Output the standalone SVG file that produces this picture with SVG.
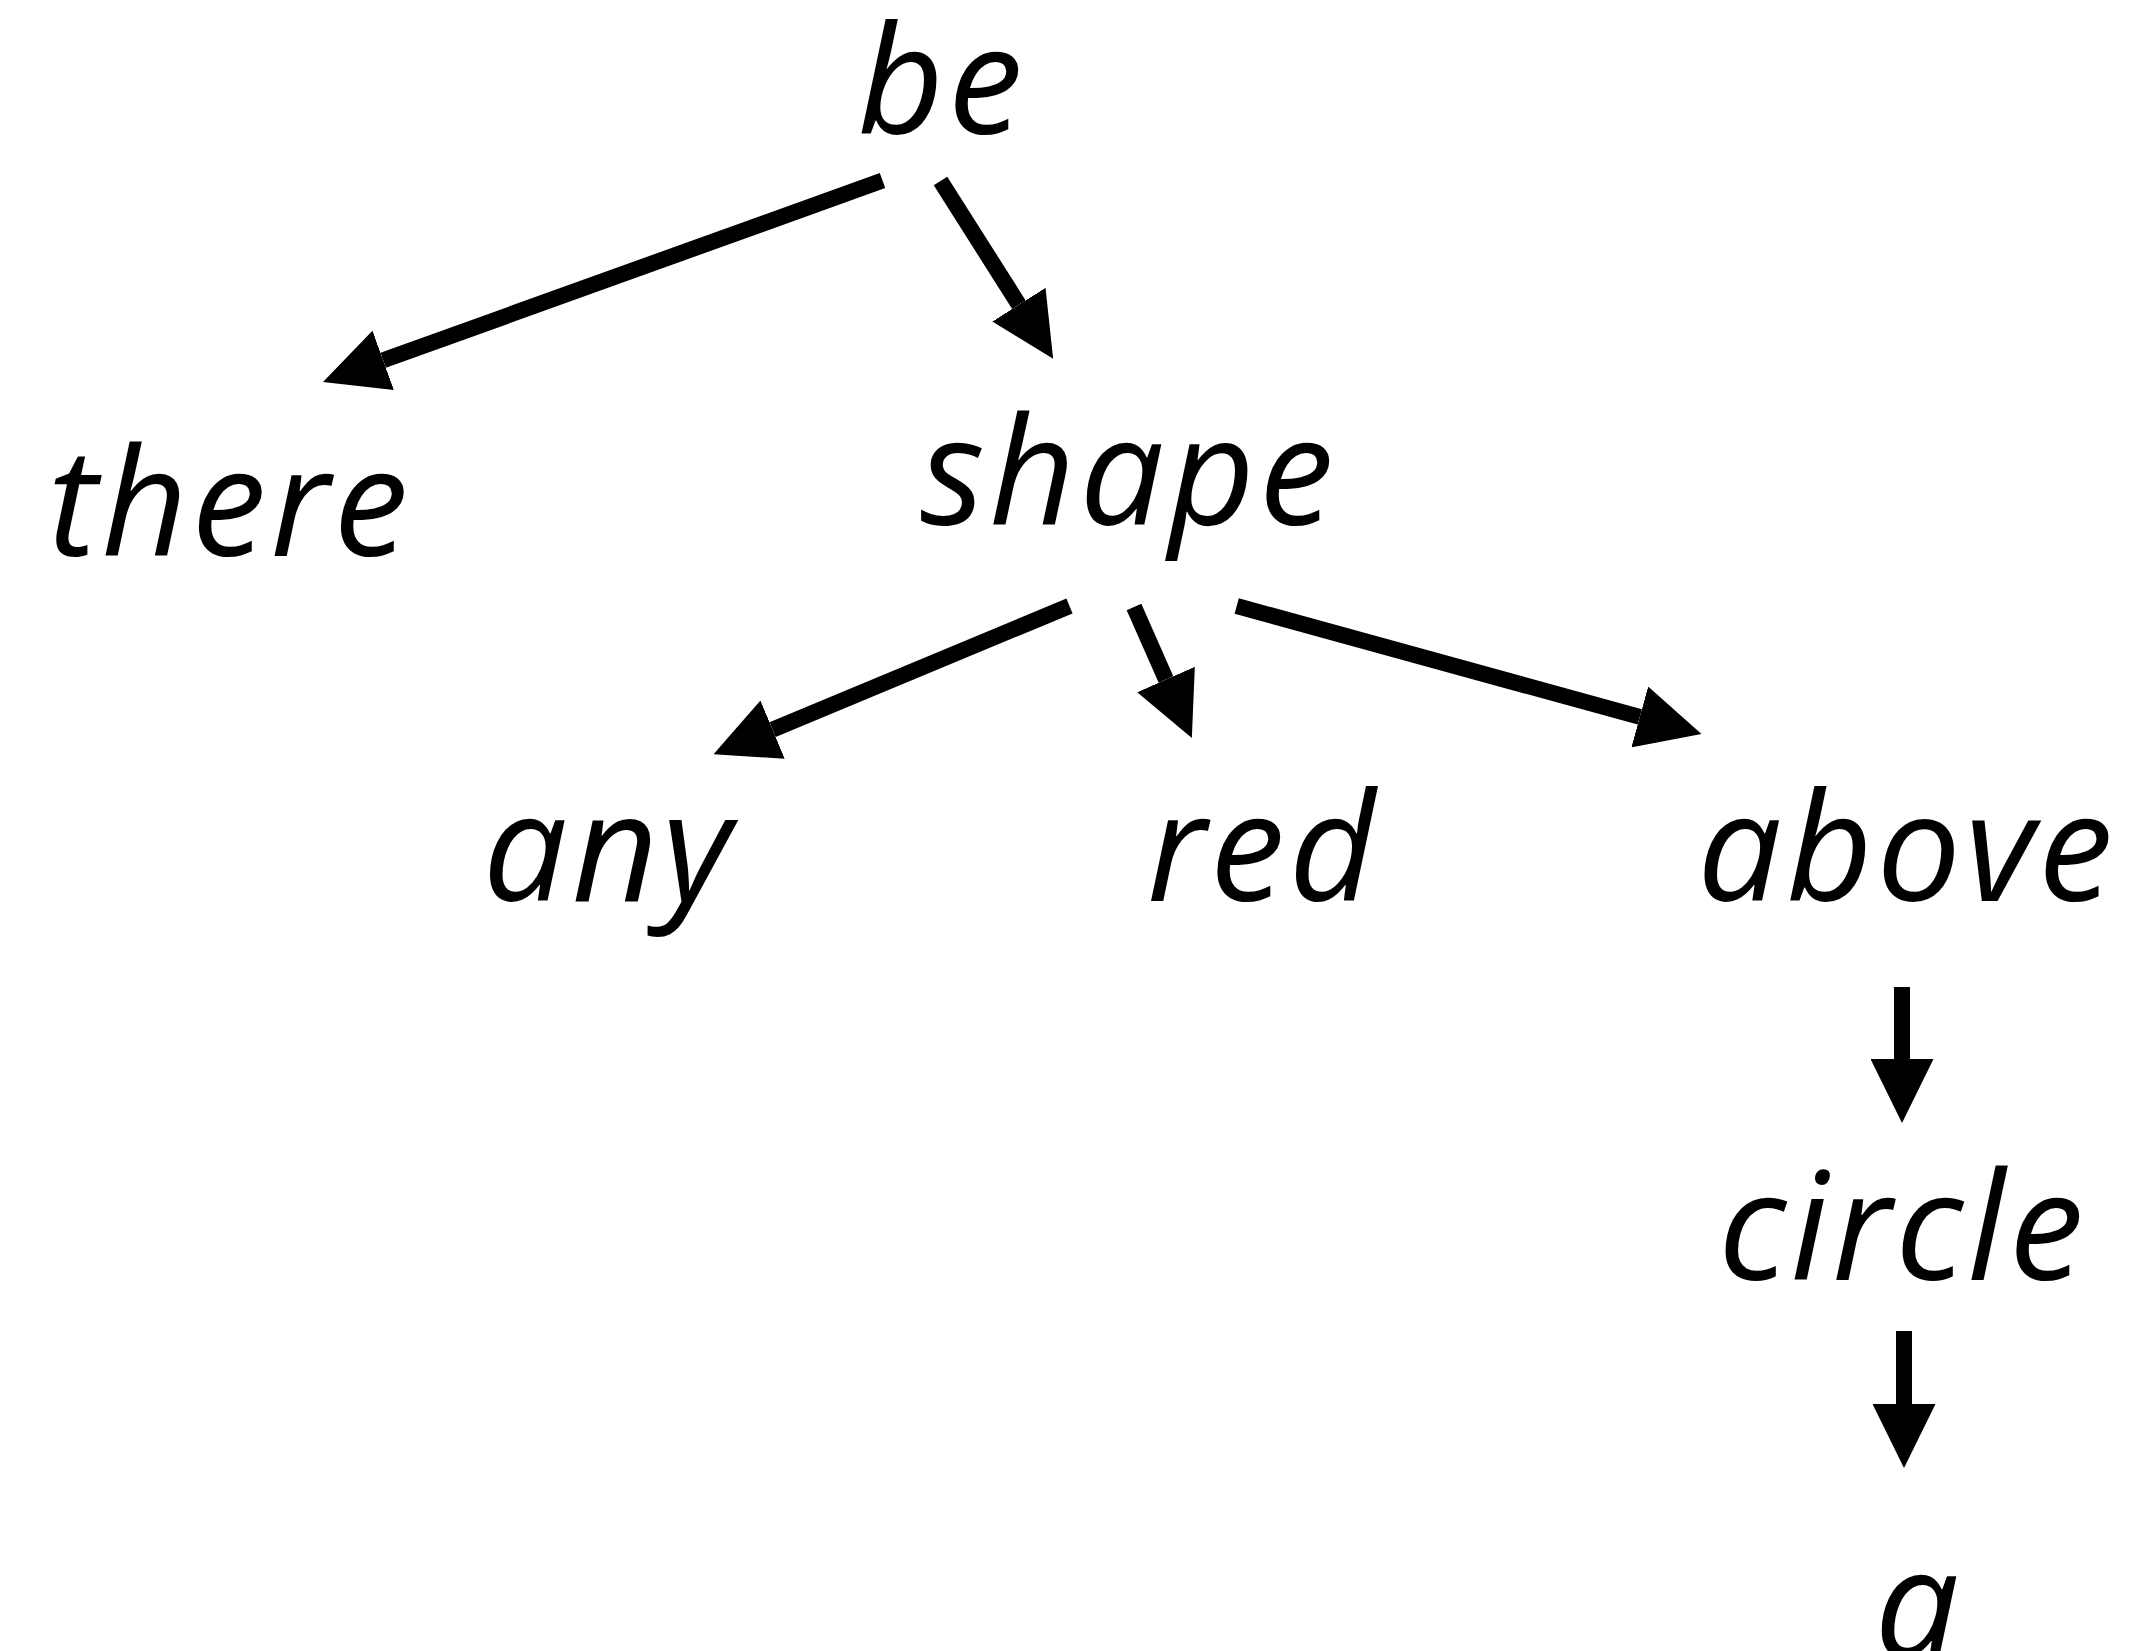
<svg xmlns="http://www.w3.org/2000/svg" width="2131" height="1651" viewBox="0 0 2131 1651">
<style>
.lbl{font-family:"Open Sans","Noto Sans",sans-serif;font-style:italic;font-size:150px;letter-spacing:4px;fill:#000;text-anchor:middle}
.edge{stroke:#000;stroke-width:16;fill:none;marker-end:url(#ah)}
</style>
<defs>
<marker id="ah" viewBox="0 0 64 63" markerWidth="64" markerHeight="63" refX="0" refY="31.5" orient="auto" markerUnits="userSpaceOnUse">
<path d="M0,0 L64,31.5 L0,63 Z" fill="#000"/>
</marker>
</defs>
<rect width="2131" height="1651" fill="#fff"/>
<g id="connectors">
<line class="edge" x1="882.5" y1="180.5" x2="383.2" y2="360.3"/>
<line class="edge" x1="940.5" y1="181" x2="1018.9" y2="304.7"/>
<line class="edge" x1="1069.5" y1="606" x2="772.6" y2="729.6"/>
<line class="edge" x1="1134" y1="607" x2="1166" y2="679.5"/>
<line class="edge" x1="1236.7" y1="606" x2="1639.8" y2="716.9"/>
<line class="edge" x1="1902" y1="987" x2="1902" y2="1059"/>
<line class="edge" x1="1904" y1="1331" x2="1904" y2="1404"/>
</g>
<g id="node-be"><text class="lbl" x="942" y="134">be</text></g>
<g id="node-there"><text class="lbl" x="230" y="556">there</text></g>
<g id="node-shape"><text class="lbl" x="1129" y="525">shape</text></g>
<g id="node-any"><text class="lbl" x="609" y="901">any</text></g>
<g id="node-red"><text class="lbl" x="1263" y="901">red</text></g>
<g id="node-above"><text class="lbl" x="1907" y="901">above</text></g>
<g id="node-circle"><text class="lbl" x="1903" y="1280">circle</text></g>
<g id="node-a"><text class="lbl" x="1919" y="1657">a</text></g>
</svg>
